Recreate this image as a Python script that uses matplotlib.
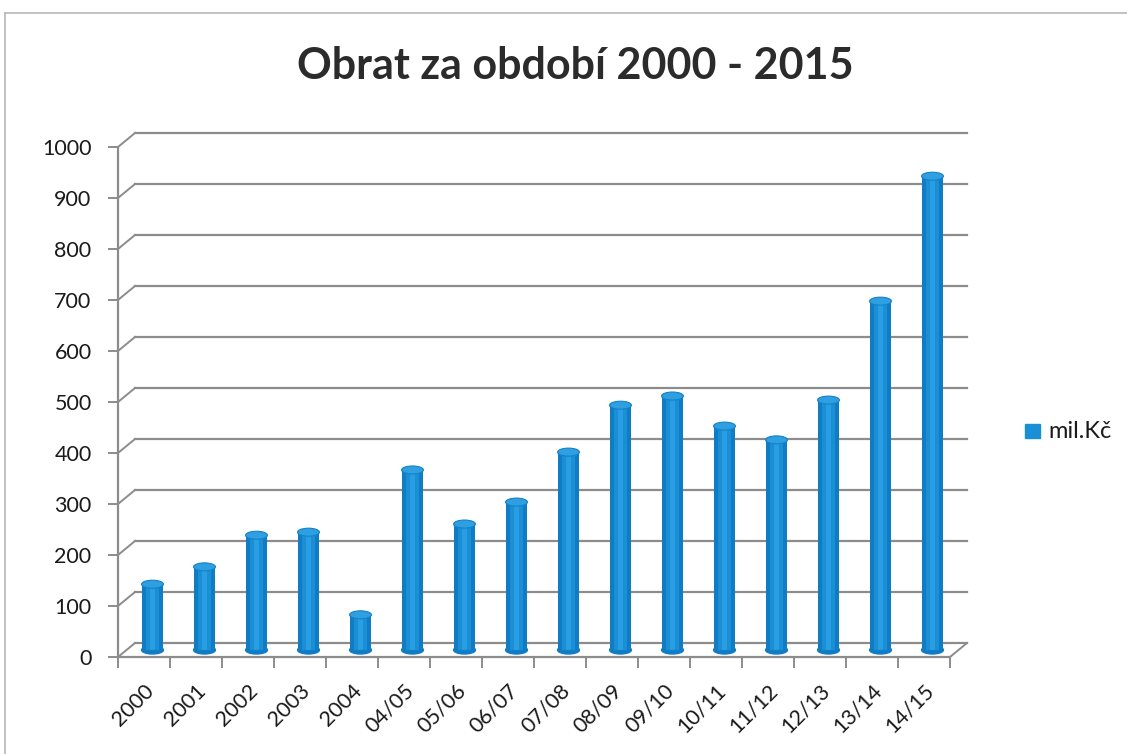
import matplotlib
matplotlib.use('Agg')
import matplotlib.pyplot as plt
from matplotlib.patches import Ellipse, Rectangle

# data
periods = ['2000', '2001', '2002', '2003', '2004', '04/05', '05/06', '06/07',
           '07/08', '08/09', '09/10', '10/11', '11/12', '12/13', '13/14', '14/15']
turnover = [129, 163, 225, 231, 69, 353, 247, 290, 388, 480, 498, 439, 412, 490, 684, 929]
series_name = 'mil.Kč'
title = 'Obrat za období 2000 - 2015'

plt.rcParams['font.family'] = ['Lato', 'DejaVu Sans']

fig = plt.figure(figsize=(11.27, 7.54), dpi=100)
ax = fig.add_axes([118 / 1127, 97 / 754, 832 / 1127, 510 / 754])

n = len(periods)
ax.set_xlim(0, n)
ax.set_ylim(0, 1000)

# depth of the fake 3d wall, in data units (17 px right, 14 px up)
DX = 17 / 52.0
DY = 14 / 0.51
grid_col = '#8c8c8c'

# back wall gridlines + left wall diagonals
for v in range(0, 1001, 100):
    ax.plot([DX, n + DX], [v + DY, v + DY], color=grid_col, lw=1.6, clip_on=False, zorder=1)
    ax.plot([0, DX], [v, v + DY], color=grid_col, lw=1.4, clip_on=False, zorder=1)
# floor right edge
ax.plot([n, n + DX], [0, DY], color=grid_col, lw=1.4, clip_on=False, zorder=1)

# cylinder bars, placed halfway into the depth
bw = 0.42
xs = [i + 0.5 + DX / 2 for i in range(n)]
base = DY / 2
tops = [v + DY / 2 for v in turnover]
ax.bar(xs, turnover, bottom=base, width=bw, color='#0f7cc4', zorder=3, clip_on=False)
ax.bar(xs, turnover, bottom=base, width=bw * 0.62, color='#1b8fd6', zorder=4, clip_on=False)
ax.bar(xs, turnover, bottom=base, width=bw * 0.25, color='#2a9ee2', zorder=4, clip_on=False)
eh = 8 / 0.51
for x, t in zip(xs, tops):
    ax.add_patch(Ellipse((x, base), bw, eh, color='#0f7cc4', zorder=2, clip_on=False))
    ax.add_patch(Ellipse((x, t), bw, eh, color='#2e9fe0', ec='#1581c8', lw=0.8, zorder=5, clip_on=False))

# front axes
for s in ['top', 'right']:
    ax.spines[s].set_visible(False)
for s in ['left', 'bottom']:
    ax.spines[s].set_color(grid_col)
    ax.spines[s].set_linewidth(1.6)
ax.set_yticks(range(0, 1001, 100))
ax.tick_params(axis='y', direction='out', length=7, width=1.4, color=grid_col,
               labelsize=15.5, pad=12, labelcolor='#1a1a1a')
ax.set_xticks(range(0, n + 1))
ax.set_xticklabels([])
ax.tick_params(axis='x', which='major', direction='out', length=8, width=1.4, color=grid_col)
ax.set_xticks([i + 0.5 for i in range(n)], minor=True)
ax.set_xticklabels(periods, minor=True, rotation=45, ha='right', va='top',
                   rotation_mode='anchor', fontsize=15.5, color='#1a1a1a')
ax.tick_params(axis='x', which='minor', length=0, pad=17)
ax.patch.set_alpha(0)

fig.text(575 / 1127, 1 - 66 / 754, title, ha='center', va='center',
         fontsize=31, fontweight='bold', color='#2b2b2b')

# legend
fig.patches.append(Rectangle((1025 / 1127, 1 - 438 / 754), 15 / 1127, 14 / 754,
                             transform=fig.transFigure, color='#1b8fd6'))
fig.text(1048 / 1127, 1 - 431 / 754, series_name, ha='left', va='center',
         fontsize=17, color='#1a1a1a')

# page border of the scan
fig.add_artist(plt.Line2D([5 / 1127, 1], [1 - 13 / 754, 1 - 13 / 754],
                          transform=fig.transFigure, color='#b8b8b8', lw=1.2))
fig.add_artist(plt.Line2D([5 / 1127, 5 / 1127], [0, 1 - 13 / 754],
                          transform=fig.transFigure, color='#b8b8b8', lw=1.2))

fig.savefig('out.png', dpi=100)
